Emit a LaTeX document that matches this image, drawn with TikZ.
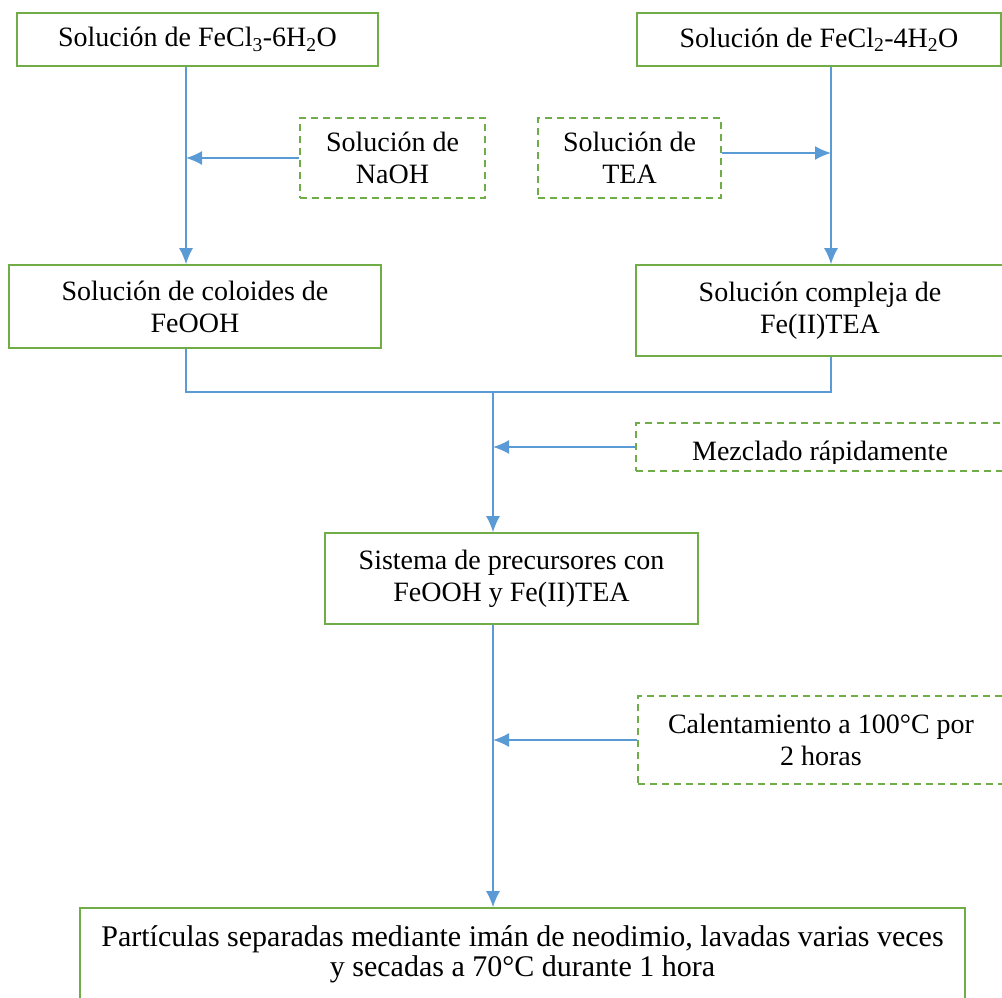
\documentclass[tikz,border=0pt]{standalone}
\usepackage{fontspec}
\setmainfont{Liberation Serif}
\usetikzlibrary{arrows.meta}
\definecolor{boxgreen}{HTML}{70AD47}
\definecolor{flowblue}{HTML}{5B9BD5}

\begin{document}
\begin{tikzpicture}[x=1pt,y=-1pt,
  txt/.style={font=\fontsize{28}{32}\selectfont, align=center, inner sep=0pt},
  solidbox/.style={txt, draw=boxgreen, line width=1.6pt, rectangle},
  dashbox/.style={solidbox, dash pattern=on 7pt off 5pt},
  flow/.style={draw=flowblue, line width=1.6pt},
  arr/.style={flow, -{Latex[length=16pt,width=14pt]}}]
\useasboundingbox (0,0) rectangle (1002,998);

% vertical flow lines
\coordinate (colL) at (186,0);
\coordinate (colR) at (831,0);
\coordinate (join) at (493,392);

% starting solutions
\node[solidbox, minimum width=361pt, minimum height=53pt] (A) at (197.5,39.5)
  {Solución de FeCl\textsubscript{3}-6H\textsubscript{2}O};
\node[solidbox, minimum width=364pt, minimum height=53pt] (B) at (819,39.5)
  {Solución de FeCl\textsubscript{2}-4H\textsubscript{2}O};

% reagents
\node[dashbox, minimum width=185pt, minimum height=80pt] (naoh) at (392.5,158)
  {Solución de\\NaOH};
\node[dashbox, minimum width=183pt, minimum height=80pt] (tea) at (629.5,158)
  {Solución de\\TEA};

% intermediate solutions
\node[solidbox, minimum width=372pt, minimum height=83pt] (C) at (195,306.5)
  {Solución de coloides de\\FeOOH};
\node[solidbox, minimum width=368pt, minimum height=91pt] (D) at (820,310.5)
  {Solución compleja de\\Fe(II)TEA};

% mixing step (label clipped by its frame)
\node[dashbox, minimum width=368pt, minimum height=48pt] (mix) at (820,447) {};
\begin{scope}
  \clip (636,423) rectangle (1004,463);
  \node[txt, anchor=base] (mixtext) at (820,460) {Mezclado rápidamente};
\end{scope}

% precursor system
\node[solidbox, minimum width=373pt, minimum height=91pt] (E) at (511.5,578.5)
  {Sistema de precursores con\\FeOOH y Fe(II)TEA};

% heating step
\node[dashbox, minimum width=366pt, minimum height=88pt] (heat) at (821,740)
  {Calentamiento a 100°C por\\2 horas};

% final product
\node[solidbox, font=\fontsize{30}{30}\selectfont, minimum width=885pt, minimum height=92pt] (F) at (522.5,954)
  {Partículas separadas mediante imán de neodimio, lavadas varias veces\\y secadas a 70°C durante 1 hora};

% connectors
\draw[arr] (A.south -| colL) -- (C.north -| colL);
\draw[arr] (naoh.west) -- (naoh.west -| colL);
\draw[arr] ([yshift=5pt]tea.east) -- ([yshift=5pt]tea.east -| colR);
\draw[arr] (B.south -| colR) -- (D.north -| colR);
\draw[flow] (C.south -| colL) -- (colL |- join) -- (colR |- join) -- (D.south -| colR);
\draw[arr] (join) -- (E.north -| join);
\draw[arr] (mix.west) -- (mix.west -| join);
\draw[arr] (E.south -| join) -- (F.north -| join);
\draw[arr] (heat.west) -- (heat.west -| join);
\end{tikzpicture}
\end{document}
